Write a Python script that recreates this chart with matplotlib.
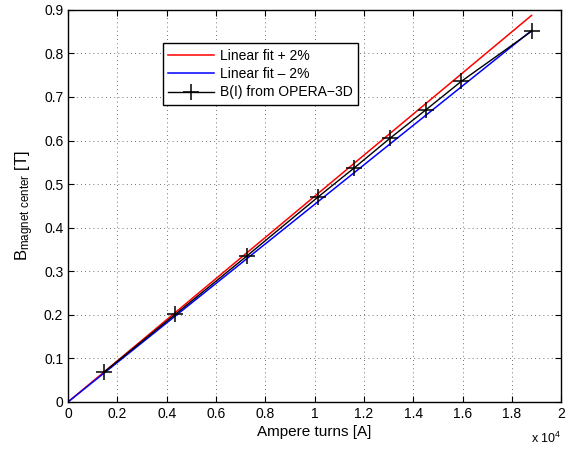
import matplotlib
matplotlib.use('Agg')
import matplotlib.pyplot as plt
from matplotlib.ticker import FuncFormatter
import numpy

plt.rcParams['font.family'] = ['Liberation Sans', 'DejaVu Sans']
plt.rcParams['mathtext.fontset'] = 'custom'
plt.rcParams['mathtext.rm'] = 'Liberation Sans'
plt.rcParams['mathtext.it'] = 'Liberation Sans'

# B(I) from OPERA-3D
ampere_turns = [1450, 4350, 7250, 10150, 11600, 13050, 14500, 15950, 18800]
b_field = [0.068, 0.201, 0.335, 0.471, 0.537, 0.605, 0.670, 0.736, 0.851]

# linear fit slope [T/A] and band
fit_slope = 4.628e-5
fit_band = 0.02
fit_x = [0, 18800]


def main():
  fig = plt.figure(figsize=(5.68, 4.5), dpi=100)
  ax = fig.add_axes([0.12, 0.107, 0.868, 0.871])

  fx = numpy.array(fit_x, dtype=float)
  ax.plot(fx, fx * fit_slope * (1 + fit_band), color='red', lw=1.1,
          label='Linear fit + 2%')
  ax.plot(fx, fx * fit_slope * (1 - fit_band), color='blue', lw=1.1,
          label='Linear fit \u2013 2%')
  ax.plot(ampere_turns, b_field, color='black', lw=1.0, marker='+',
          markersize=11, markeredgewidth=1.1, label='B(I) from OPERA\u22123D')

  ax.set_xlim(0, 20000)
  ax.set_ylim(0, 0.9)
  ax.set_xticks(numpy.arange(0, 20001, 2000))
  ax.set_yticks(numpy.arange(0, 0.91, 0.1))
  ax.xaxis.set_major_formatter(FuncFormatter(lambda v, p: '{0:g}'.format(round(v / 1e4, 1))))
  ax.yaxis.set_major_formatter(FuncFormatter(lambda v, p: '{0:g}'.format(round(v, 1))))
  ax.tick_params(direction='in', top=True, right=True, labelsize=10, length=4)
  ax.grid(True, linestyle=(0, (1, 4)), color='#444444', lw=0.6)
  for s in ax.spines.values():
    s.set_linewidth(1.0)

  ax.set_xlabel('Ampere turns [A]', fontsize=11, labelpad=3)
  ax.set_ylabel(r'B$_{\mathrm{magnet\ center}}$ [T]', fontsize=12, labelpad=6)
  ax.text(1.0, -0.075, r'x 10$^{4}$', transform=ax.transAxes, fontsize=9,
          ha='right', va='top')

  leg = ax.legend(loc='upper left', bbox_to_anchor=(0.178, 0.932), fontsize=10,
                  fancybox=False, framealpha=1, edgecolor='black',
                  handlelength=3.3, borderpad=0.4, labelspacing=0.3,
                  handletextpad=0.4)
  leg.get_frame().set_linewidth(1.0)

  fig.savefig('out.png', dpi=100)


if __name__ == '__main__':
  main()
